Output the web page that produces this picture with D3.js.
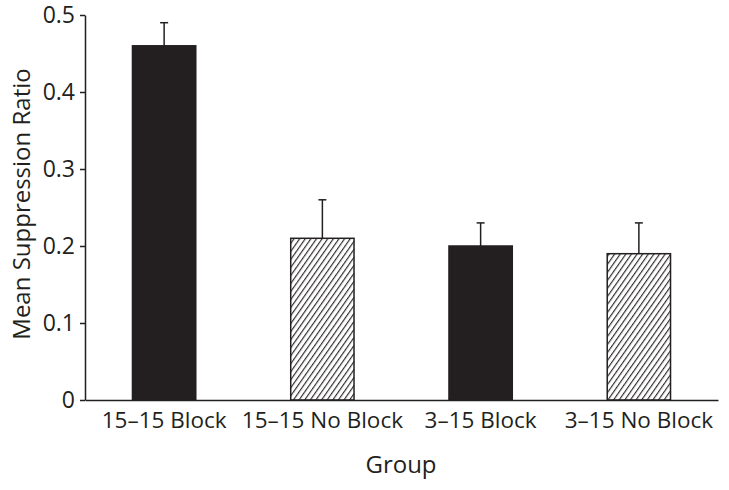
<!DOCTYPE html>
<html>
<head>
<meta charset="utf-8">
<script src="https://cdn.jsdelivr.net/npm/d3@7"></script>
<style>
  body { margin: 0; background: #fff; }
  svg { display: block; }
  text { font-family: "Open Sans", "Noto Sans", sans-serif; fill: #231f20; }
</style>
</head>
<body>
<svg id="chart" width="729" height="490"></svg>
<script>
const groups = ["15\u201315 Block", "15\u201315 No Block", "3\u201315 Block", "3\u201315 No Block"];
const means = [0.46, 0.21, 0.20, 0.19];
const errors = [0.03, 0.05, 0.03, 0.04];
const fills = ["solid", "hatch", "solid", "hatch"];
const yTicks = [0, 0.1, 0.2, 0.3, 0.4, 0.5];
const yTickLabels = ["0", "0.1", "0.2", "0.3", "0.4", "0.5"];

const svg = d3.select("#chart");
const ink = "#231f20";

const x = d3.scaleBand().domain(groups).range([85, 718]).paddingInner(0.6).paddingOuter(0.3);
const y = d3.scaleLinear().domain([0, 0.5]).range([400, 15]);

const defs = svg.append("defs");
const pw = 4.6;
const pat = defs.append("pattern")
  .attr("id", "hatch").attr("patternUnits", "userSpaceOnUse")
  .attr("width", pw).attr("height", pw)
  .attr("patternTransform", "rotate(35)");
pat.append("rect").attr("width", pw).attr("height", pw).attr("fill", "#fff");
pat.append("line").attr("x1", 0.6).attr("y1", 0).attr("x2", 0.6).attr("y2", pw)
  .attr("stroke", ink).attr("stroke-width", 1.1);

// bars
svg.append("g").selectAll("rect").data(groups).join("rect")
  .attr("x", d => x(d))
  .attr("y", (d, i) => y(means[i]))
  .attr("width", x.bandwidth())
  .attr("height", (d, i) => y(0) - y(means[i]))
  .attr("fill", (d, i) => fills[i] === "solid" ? ink : "url(#hatch)")
  .attr("stroke", ink).attr("stroke-width", 1.5);

// error bars
const eb = svg.append("g").attr("stroke", ink).attr("stroke-width", 1.5);
groups.forEach((g, i) => {
  const cx = x(g) + x.bandwidth() / 2;
  eb.append("line").attr("x1", cx).attr("x2", cx)
    .attr("y1", y(means[i])).attr("y2", y(means[i] + errors[i]));
  eb.append("line").attr("x1", cx - 4).attr("x2", cx + 4)
    .attr("y1", y(means[i] + errors[i])).attr("y2", y(means[i] + errors[i]));
});

// y axis
const yAxis = d3.axisLeft(y).tickValues(yTicks)
  .tickFormat((d, i) => yTickLabels[i]).tickSize(5).tickPadding(5).tickSizeOuter(0);
const gy = svg.append("g").attr("transform", "translate(85,0)").call(yAxis);
gy.select(".domain").attr("stroke", ink).attr("stroke-width", 1.5);
gy.selectAll(".tick line").attr("stroke", ink).attr("stroke-width", 1.5);
gy.selectAll(".tick text").attr("font-size", 23).attr("fill", ink)
  .style("font-family", '"Open Sans", sans-serif');

// x axis
const xAxis = d3.axisBottom(x).tickSize(0).tickPadding(12).tickSizeOuter(0);
const gx = svg.append("g").attr("transform", "translate(0,400)").call(xAxis);
gx.select(".domain").attr("stroke", ink).attr("stroke-width", 1.5);
gx.selectAll(".tick text").attr("font-size", 22.5).attr("fill", ink)
  .style("font-family", '"Open Sans", sans-serif');

// titles
svg.append("text").attr("x", 401).attr("y", 473)
  .attr("text-anchor", "middle").attr("font-size", 24).text("Group");
svg.append("text").attr("transform", "translate(30,204) rotate(-90)")
  .attr("text-anchor", "middle").attr("font-size", 24).text("Mean Suppression Ratio");
</script>
</body>
</html>
